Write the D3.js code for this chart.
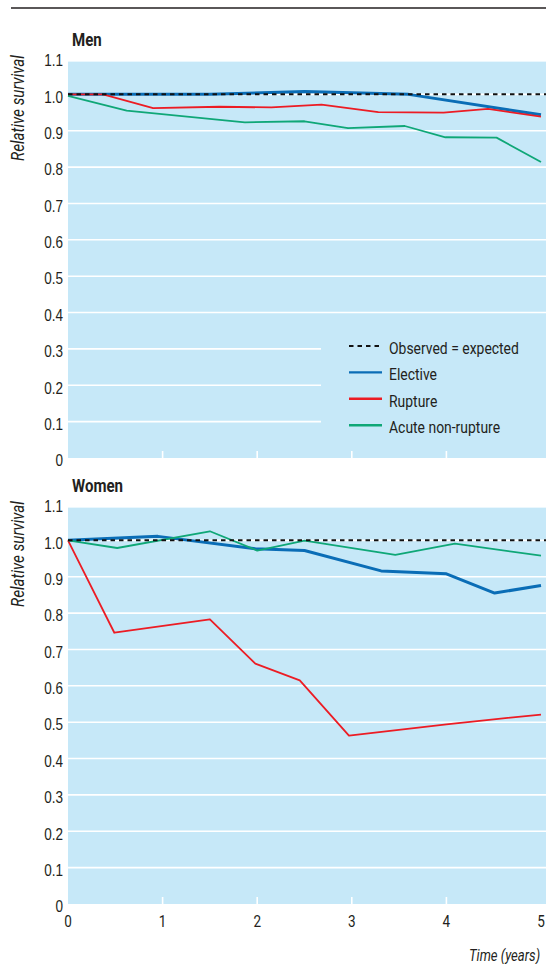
<!DOCTYPE html>
<html>
<head>
<meta charset="utf-8">
<script src="https://cdn.jsdelivr.net/npm/d3@7"></script>
<style>
  html, body { margin: 0; padding: 0; background: #fff; }
  svg { display: block; font-family: Roboto, "Liberation Sans", sans-serif; }
</style>
</head>
<body>
<svg id="chart" width="546" height="964"></svg>
<script>
// Relative survival after aneurysm repair, by sex and type of presentation

const yTicks = [0, 0.1, 0.2, 0.3, 0.4, 0.5, 0.6, 0.7, 0.8, 0.9, 1.0, 1.1];
const xTicks = [0, 1, 2, 3, 4, 5];

const seriesNames = ["Elective", "Rupture", "Acute non-rupture"];
const seriesColors = ["#0a6db6", "#ec1c24", "#0fa777"];
const seriesWidths = [3, 1.8, 1.8];

// Men
const menElectiveT = [0, 1.5, 2.5, 3.6, 5.0];
const menElectiveV = [1.0, 1.0, 1.008, 1.0, 0.944];
const menRuptureT = [0, 0.37, 0.9, 1.6, 2.15, 2.68, 3.28, 3.97, 4.44, 5.0];
const menRuptureV = [1.0, 1.0, 0.962, 0.966, 0.964, 0.972, 0.951, 0.950, 0.960, 0.939];
const menAcuteT = [0, 0.62, 1.87, 2.5, 2.96, 3.56, 3.99, 4.53, 5.0];
const menAcuteV = [0.996, 0.955, 0.923, 0.926, 0.907, 0.913, 0.882, 0.881, 0.814];

// Women
const womenElectiveT = [0, 0.95, 1.98, 2.5, 3.31, 4.0, 4.51, 5.0];
const womenElectiveV = [1.0, 1.011, 0.977, 0.972, 0.916, 0.908, 0.855, 0.876];
const womenRuptureT = [0, 0.49, 1.5, 1.98, 2.45, 2.97, 4.0, 4.5, 5.0];
const womenRuptureV = [1.0, 0.746, 0.783, 0.661, 0.615, 0.463, 0.494, 0.508, 0.521];
const womenAcuteT = [0, 0.52, 1.5, 2.0, 2.5, 3.46, 4.09, 5.0];
const womenAcuteV = [1.0, 0.979, 1.025, 0.972, 0.999, 0.960, 0.991, 0.958];

const expectedV = 1.0;

const panels = [
  { title: "Men", top: 58, bottom: 458, legend: true, xLabels: false,
    series: [[menElectiveT, menElectiveV], [menRuptureT, menRuptureV], [menAcuteT, menAcuteV]] },
  { title: "Women", top: 504, bottom: 904, legend: false, xLabels: true,
    series: [[womenElectiveT, womenElectiveV], [womenRuptureT, womenRuptureV], [womenAcuteT, womenAcuteV]] }
];

const svg = d3.select("#chart");
const bg = "#c6e8f8";
const ink = "#231f20";
const narrow = 0.82;   // horizontal squeeze for a condensed look
const x = d3.scaleLinear().domain([0, 5]).range([68, 541]);
const plotRight = 546;

// condensed text at (px, py)
function label(parent, px, py, txt, opts = {}) {
  const t = parent.append("text")
    .attr("transform", `translate(${px},${py})${opts.rot ? " rotate(" + opts.rot + ")" : ""} scale(${opts.sx || narrow},1)`)
    .attr("font-size", opts.size || 16.5)
    .attr("fill", ink)
    .attr("text-anchor", opts.anchor || "start")
    .text(txt);
  if (opts.weight) t.attr("font-weight", opts.weight);
  if (opts.italic) t.attr("font-style", "italic");
  if (opts.dy) t.attr("dy", opts.dy);
  return t;
}

// header rule
svg.append("line").attr("x1", 11).attr("x2", 546).attr("y1", 8).attr("y2", 8)
  .attr("stroke", ink).attr("stroke-width", 1.6);

panels.forEach(p => {
  const y = d3.scaleLinear().domain([0, 1.1]).range([p.bottom, p.top]);
  const g = svg.append("g");

  g.append("rect")
    .attr("x", x(0)).attr("y", y(1.09))
    .attr("width", plotRight - x(0)).attr("height", y(0) - y(1.09))
    .attr("fill", bg);

  // horizontal grid
  g.selectAll("line.grid").data(yTicks.filter(v => v > 0 && v < 1.1)).join("line")
    .attr("class", "grid")
    .attr("x1", x(0)).attr("x2", plotRight)
    .attr("y1", d => y(d)).attr("y2", d => y(d))
    .attr("stroke", "#fff").attr("stroke-width", 1.6);

  // inner ticks along the bottom edge
  g.selectAll("line.xt").data(xTicks.filter(v => v > 0 && v < 5)).join("line")
    .attr("class", "xt")
    .attr("x1", d => x(d)).attr("x2", d => x(d))
    .attr("y1", y(0)).attr("y2", y(0) - 7)
    .attr("stroke", "#fff").attr("stroke-width", 1.6);

  // y axis
  const ya = g.append("g").attr("transform", `translate(${x(0)},0)`)
    .call(d3.axisLeft(y).tickValues(yTicks).tickSize(0).tickPadding(6)
      .tickFormat(d => d === 0 ? "0" : d3.format(".1f")(d)));
  ya.select(".domain").remove();
  ya.selectAll("text")
    .attr("font-size", 16.5).attr("fill", ink).attr("font-family", "inherit")
    .attr("y", 2.5)
    .attr("transform", `scale(${narrow},1)`);

  // panel title
  label(g, 72, p.top - 12, p.title, { size: 17.5, weight: "bold", sx: 0.86 });

  // y axis title
  label(g, 18, p.top + 50, "Relative survival",
    { size: 17.5, sx: 0.87, italic: true, rot: -90, anchor: "middle", dy: "0.35em" });

  if (p.legend) {
    // keep the legend area clear of gridlines
    g.append("rect").attr("x", 321).attr("y", y(0.37))
      .attr("width", plotRight - 321).attr("height", y(0.02) - y(0.37))
      .attr("fill", bg);
  }

  const line = d3.line().x(d => x(d[0])).y(d => y(d[1]));
  p.series.forEach((s, i) => {
    const pts = s[0].map((t, k) => [t, s[1][k]]);
    g.append("path").datum(pts).attr("d", line)
      .attr("fill", "none").attr("stroke", seriesColors[i])
      .attr("stroke-width", seriesWidths[i]).attr("stroke-linejoin", "round");
  });

  // observed = expected
  g.append("line")
    .attr("x1", x(0)).attr("x2", plotRight)
    .attr("y1", y(expectedV)).attr("y2", y(expectedV))
    .attr("stroke", "#111").attr("stroke-width", 2).attr("stroke-dasharray", "4.5,4");

  if (p.xLabels) {
    xTicks.forEach(d => label(g, x(d), y(0) + 23, d, { anchor: "middle" }));
  }

  if (p.legend) {
    const items = [{ name: "Observed = expected", color: "#111", w: 2, dash: "4.5,4" }]
      .concat(seriesNames.map((n, i) => ({ name: n, color: seriesColors[i], w: 2.4, dash: null })));
    const lg = g.append("g");
    items.forEach((it, i) => {
      const ly = 346 + i * 26.4;
      lg.append("line").attr("x1", 349).attr("x2", 382).attr("y1", ly).attr("y2", ly)
        .attr("stroke", it.color).attr("stroke-width", it.w)
        .attr("stroke-dasharray", it.dash);
      label(lg, 389, ly + 2, it.name, { size: 17, dy: "0.35em" });
    });
  }
});

// x axis title
label(svg, 469, 961, "Time (years)", { size: 16, italic: true });
</script>
</body>
</html>
